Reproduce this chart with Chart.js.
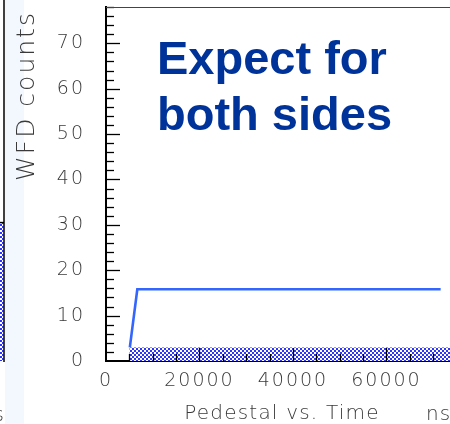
<!DOCTYPE html>
<html>
<head>
<meta charset="utf-8">
<script src="https://cdn.jsdelivr.net/npm/chart.js@4/dist/chart.umd.min.js"></script>
<style>
  html, body { margin: 0; padding: 0; background: #fff; overflow: hidden; }
  canvas { display: block; }
</style>
</head>
<body>
<canvas id="c" width="450" height="424"></canvas>
<script>
// Pedestal vs. time: WFD counts against time in ns
const histEdges = [5000, 73600];          // pedestal histogram, start/end of the shown range (ns)
const histCounts = [3, 3];                // pedestal level (counts)
const expectTime = [5100, 6700, 71600];   // expected trace (ns)
const expectCounts = [3, 15.8, 15.8];     // expected trace (counts)
const neighbourLevel = [30.5];            // bar level of the adjacent panel on the left
const yRange = [0, 78];
const xRange = [0, 73600];
const yTickStep = 2, yLabelEvery = 10;
const xTickStep = 5000, xLabelEvery = 20000;
const titleLines = ['Expect for', 'both sides'];

const TEXT_FONT = '"DejaVu Sans", sans-serif';
const TEXT_COLOR = '#3a3a3a';

// blue/white checker fill of the histogram
function checker() {
  const c = document.createElement('canvas');
  c.width = 4; c.height = 4;
  const g = c.getContext('2d');
  g.fillStyle = '#ffffff'; g.fillRect(0, 0, 4, 4);
  g.fillStyle = '#2f35f5';
  g.fillRect(0, 0, 2, 2); g.fillRect(2, 2, 2, 2);
  return document.getElementById('c').getContext('2d').createPattern(c, 'repeat');
}
const hatch = checker();

function noPad(s) { s.paddingTop = 0; s.paddingBottom = 0; s.paddingLeft = 0; s.paddingRight = 0; }

// tick positions every `step` inside [lo, hi]
function stepTicks(lo, hi, step) {
  const out = [];
  for (let v = lo; v <= hi + 1e-9; v += step) out.push({ value: v });
  return out;
}

const decor = {
  id: 'decor',
  beforeDraw(chart) {
    const ctx = chart.ctx, ya = chart.scales.y;
    ctx.save();
    // pale slide strip on the far left
    ctx.fillStyle = '#f2f8fe';
    ctx.fillRect(5, 0, 19, chart.height);
    // edge of the neighbouring panel
    const yb = ya.getPixelForValue(0), yt = ya.getPixelForValue(neighbourLevel[0]);
    ctx.fillStyle = hatch;
    ctx.fillRect(0, yt, 3.5, yb - yt);
    ctx.strokeStyle = '#000'; ctx.lineWidth = 1.5;
    ctx.beginPath(); ctx.moveTo(0, yt); ctx.lineTo(4, yt); ctx.stroke();
    ctx.beginPath(); ctx.moveTo(4, 0); ctx.lineTo(4, yb + 1); ctx.stroke();
    ctx.restore();
    ctx.letterSpacing = '2px';
  },
  afterDatasetsDraw(chart) {
    const ctx = chart.ctx, a = chart.chartArea;
    const xs = chart.scales.x, ys = chart.scales.y;
    ctx.save();
    ctx.strokeStyle = '#000';
    ctx.lineWidth = 1.3;
    ys.ticks.forEach(t => {
      if (t.value <= yRange[0]) return;
      const y = Math.round(ys.getPixelForValue(t.value)) + 0.5;
      const len = t.value % yLabelEvery === 0 ? 14 : 8;
      ctx.beginPath(); ctx.moveTo(a.left, y); ctx.lineTo(a.left + len, y); ctx.stroke();
    });
    xs.ticks.forEach(t => {
      if (t.value <= xRange[0]) return;
      const x = Math.round(xs.getPixelForValue(t.value)) + 0.5;
      const len = t.value % xLabelEvery === 0 ? 13 : 7;
      ctx.beginPath(); ctx.moveTo(x, a.bottom); ctx.lineTo(x, a.bottom - len); ctx.stroke();
    });
    // upper frame
    ctx.strokeStyle = '#444'; ctx.lineWidth = 1;
    ctx.beginPath(); ctx.moveTo(a.left, a.top + 0.5); ctx.lineTo(a.right, a.top + 0.5); ctx.stroke();
    ctx.restore();
  },
  afterDraw(chart) {
    const ctx = chart.ctx;
    ctx.save();
    ctx.fillStyle = TEXT_COLOR;
    ctx.letterSpacing = '2px';
    // y axis title
    ctx.save();
    ctx.translate(34, 96);
    ctx.rotate(-Math.PI / 2);
    ctx.font = '300 25px ' + TEXT_FONT;
    ctx.textAlign = 'center'; ctx.textBaseline = 'alphabetic';
    ctx.fillText('WFD counts', 0, 0);
    ctx.restore();
    // x axis captions
    ctx.font = '300 20px ' + TEXT_FONT;
    ctx.textBaseline = 'alphabetic';
    ctx.letterSpacing = '1.2px';
    ctx.textAlign = 'center';
    ctx.fillText('Pedestal vs. Time', 282, 419);
    ctx.textAlign = 'left';
    ctx.letterSpacing = '1px';
    ctx.fillText('ns', 426, 420);
    ctx.textAlign = 'right';
    ctx.fillText('ns', 5, 421);
    // annotation
    ctx.letterSpacing = '0px';
    ctx.fillStyle = '#003399';
    ctx.font = 'bold 47px "Liberation Sans", Arial, sans-serif';
    ctx.textAlign = 'left';
    ctx.fillText(titleLines[0], 157, 74);
    ctx.fillText(titleLines[1], 157, 130);
    ctx.restore();
  }
};

new Chart(document.getElementById('c'), {
  type: 'line',
  data: {
    datasets: [
      {
        label: 'expected',
        data: expectTime.map((t, i) => ({ x: t, y: expectCounts[i] })),
        borderColor: '#3366ff',
        borderWidth: 2.6,
        pointRadius: 0,
        fill: false,
        tension: 0,
        order: 0
      },
      {
        label: 'pedestal',
        data: histEdges.map((t, i) => ({ x: t, y: histCounts[i] })),
        borderWidth: 0,
        borderColor: 'rgba(0,0,0,0)',
        backgroundColor: hatch,
        pointRadius: 0,
        fill: 'origin',
        stepped: 'before',
        order: 1
      }
    ]
  },
  options: {
    responsive: false,
    animation: false,
    devicePixelRatio: 1,
    layout: { padding: { top: 7, right: 0, left: 0, bottom: 0 } },
    plugins: { legend: { display: false }, tooltip: { enabled: false }, title: { display: false } },
    scales: {
      x: {
        type: 'linear',
        min: xRange[0], max: xRange[1],
        grid: { display: false, drawTicks: false },
        border: { display: true, color: '#000', width: 2 },
        ticks: {
          autoSkip: false,
          maxRotation: 0,
          minRotation: 0,
          padding: 9,
          color: TEXT_COLOR,
          font: { family: TEXT_FONT, size: 19, weight: 300 },
          callback: v => (v % xLabelEvery === 0 ? String(v) : '')
        },
        afterBuildTicks(s) { s.ticks = stepTicks(xRange[0], xRange[1], xTickStep); },
        afterFit(s) { s.height = 63; noPad(s); }
      },
      y: {
        type: 'linear',
        min: yRange[0], max: yRange[1],
        grid: { display: false, drawTicks: false },
        border: { display: true, color: '#000', width: 2 },
        ticks: {
          autoSkip: false,
          padding: 21,
          color: TEXT_COLOR,
          font: { family: TEXT_FONT, size: 19, weight: 300 },
          callback: v => (v % yLabelEvery === 0 ? String(v) : '')
        },
        afterBuildTicks(s) { s.ticks = stepTicks(yRange[0], yRange[1], yTickStep); },
        afterFit(s) { s.width = 106; noPad(s); }
      }
    }
  },
  plugins: [decor]
});
</script>
</body>
</html>
